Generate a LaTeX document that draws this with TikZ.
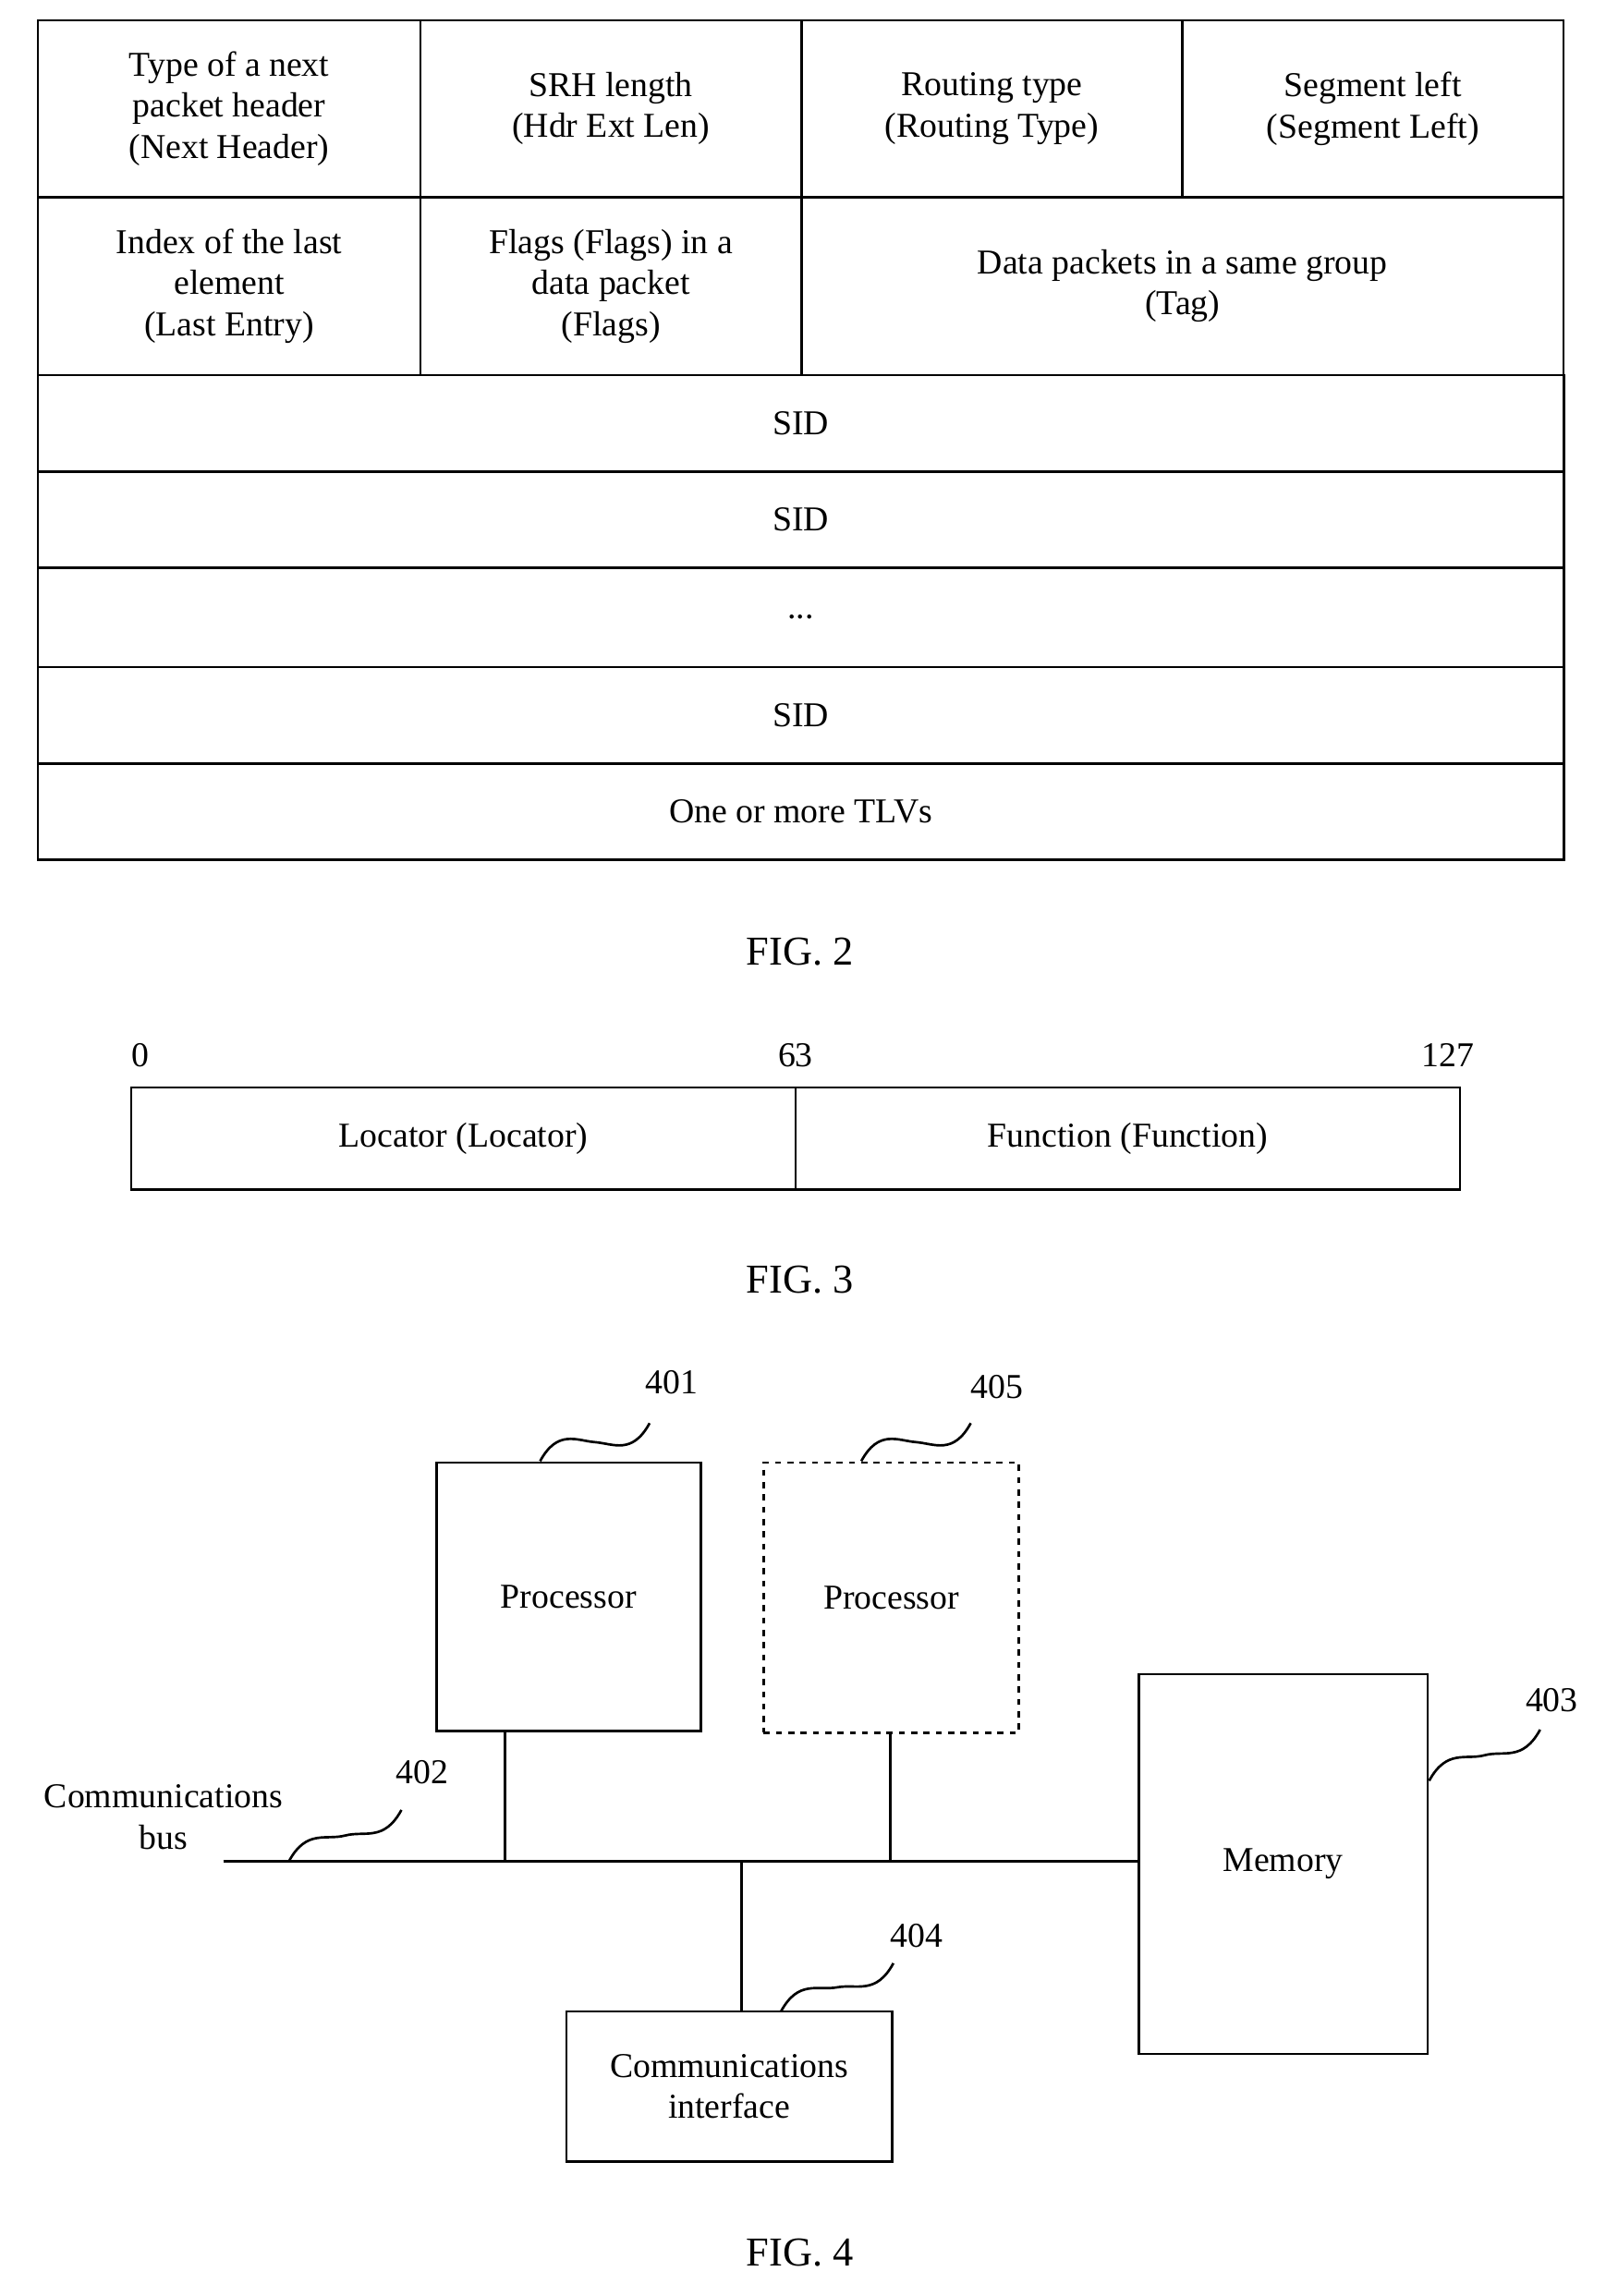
\documentclass[tikz,border=0pt]{standalone}
\usepackage{fontspec}
\setmainfont{Liberation Serif}
\usetikzlibrary{calc}
\begin{document}
\begin{tikzpicture}[x=0.025cm,y=-0.025cm,line width=1.2pt,
  every node/.style={font=\fontsize{17pt}{20pt}\selectfont},
  cell/.style={draw,inner sep=0pt,align=center},
  box/.style={draw,inner sep=0pt,align=center},
  lbl/.style={inner sep=1pt},
  squig/.style={to path={.. controls ($(\tikztostart)+(12,-22)$) and ($(\tikztostart)+(25,-14)$) .. ($(\tikztostart)!0.5!(\tikztotarget)$) .. controls ($(\tikztotarget)+(-25,14)$) and ($(\tikztotarget)+(-12,22)$) .. (\tikztotarget)}}]
\useasboundingbox (0,0) rectangle (1100,1573);
% FIG 2
\node[cell,minimum width=6.55cm,minimum height=3.025cm] (nh) at (157,74.5) {Type of a next\\packet header\\(Next Header)};
\node[cell,minimum width=6.525cm,minimum height=3.025cm] (hl) at (418.5,74.5) {SRH length\\(Hdr Ext Len)};
\node[cell,minimum width=6.525cm,minimum height=3.025cm] (rt) at (679.5,74.5) {Routing type\\(Routing Type)};
\node[cell,minimum width=6.525cm,minimum height=3.025cm] (sl) at (940.5,74.5) {Segment left\\(Segment Left)};
\node[cell,minimum width=6.55cm,minimum height=3.05cm] (le) at (157,196) {Index of the last\\element\\(Last Entry)};
\node[cell,minimum width=6.525cm,minimum height=3.05cm] (fl) at (418.5,196) {Flags (Flags) in a\\data packet\\(Flags)};
\node[cell,minimum width=13.05cm,minimum height=3.05cm] (tg) at (810,196) {Data packets in a same group\\(Tag)};
\node[cell,minimum width=26.125cm,minimum height=1.65cm] (s1) at (548.5,290) {SID};
\node[cell,minimum width=26.125cm,minimum height=1.65cm] (s2) at (548.5,356) {SID};
\node[cell,minimum width=26.125cm,minimum height=1.7cm] (dt) at (548.5,423) {...};
\node[cell,minimum width=26.125cm,minimum height=1.65cm] (s3) at (548.5,490) {SID};
\node[cell,minimum width=26.125cm,minimum height=1.65cm] (tl) at (548.5,556) {One or more TLVs};
\node (f2) at (548,652) {\fontsize{20pt}{24pt}\selectfont FIG. 2};
% FIG 3
\node[cell,minimum width=11.375cm,minimum height=1.75cm] (loc) at (317.5,780) {Locator (Locator)};
\node[cell,minimum width=11.375cm,minimum height=1.75cm] (fun) at (772.5,780) {Function (Function)};
\node (b0) at (96,723) {0};
\node (b63) at (545,723) {63};
\node (b127) at (992,723) {127};
\node (f3) at (548,877) {\fontsize{20pt}{24pt}\selectfont FIG. 3};
% FIG 4
\node[box,minimum width=4.525cm,minimum height=4.6cm] (p1) at (389.5,1094) {Processor};
\node[box,dashed,minimum width=4.375cm,minimum height=4.625cm] (p2) at (610.5,1094.5) {Processor};
\node[box,minimum width=4.95cm,minimum height=6.5cm] (mem) at (879,1277) {Memory};
\node[box,minimum width=5.575cm,minimum height=2.575cm] (ci) at (499.5,1429.5) {Communications\\interface};
\coordinate (bs) at (153,1275);
\coordinate (j1) at (346,1275);
\coordinate (j2) at (610,1275);
\coordinate (j3) at (508,1275);
\draw (bs) -- (mem.west|-bs);
\draw (p1.south-|j1) -- (j1);
\draw (p2.south-|j2) -- (j2);
\draw (j3) -- (ci.north-|j3);
\node[align=center] (cb) at (112,1245) {Communications\\bus};
\node (l402) at (289,1214) {402};
\node (l401) at (460,947) {401};
\node (l405) at (683,950) {405};
\node (l403) at (1063,1165) {403};
\node (l404) at (628,1326) {404};
\coordinate (q402a) at (198,1275); \coordinate (q402b) at (275,1240);
\coordinate (q401a) at (370,1001); \coordinate (q401b) at (445,975);
\coordinate (q405a) at (590,1001); \coordinate (q405b) at (665,975);
\coordinate (q403a) at (979,1220); \coordinate (q403b) at (1055,1185);
\coordinate (q404a) at (535,1378); \coordinate (q404b) at (612,1345);
\draw (q402a) to[squig] (q402b);
\draw (q401a) to[squig] (q401b);
\draw (q405a) to[squig] (q405b);
\draw (q403a) to[squig] (q403b);
\draw (q404a) to[squig] (q404b);
\node (f4) at (548,1543) {\fontsize{20pt}{24pt}\selectfont FIG. 4};
\end{tikzpicture}
\end{document}
